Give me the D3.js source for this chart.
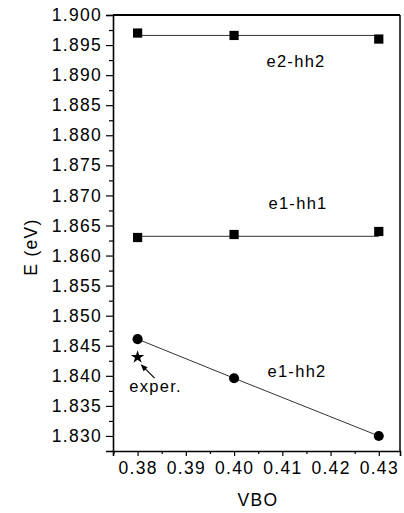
<!DOCTYPE html>
<html>
<head>
<meta charset="utf-8">
<script src="https://cdn.jsdelivr.net/npm/d3@7"></script>
<style>
body{margin:0;background:#fff;}
svg{display:block;font-family:"Liberation Sans",Arial,sans-serif;}
text{letter-spacing:1.3px;}
</style>
</head>
<body>
<svg id="chart"></svg>
<script>
const width=404;
const height=513;

// data
const vbo=[0.38,0.40,0.43];
const e2hh2=[1.8970,1.8966,1.8960];
const e1hh1=[1.8630,1.8635,1.8640];
const e1hh2=[1.8461,1.8396,1.8300];
const e2hh2Fit=[1.8966,1.8966];   // flat fit line ends (0.38 / 0.43)
const e1hh1Fit=[1.8632,1.8632];
const exper={x:0.38,y:1.8431};
const xTicks=[0.38,0.39,0.40,0.41,0.42,0.43];
const yTicks=d3.range(1.830,1.9001,0.005);

const svg=d3.select('#chart').attr('width',width).attr('height',height);

const x=d3.scaleLinear().domain([0.3749,0.4344]).range([113,400]);
const y=d3.scaleLinear().domain([1.8275,1.900]).range([451,15]);

// frame
svg.append('line').attr('x1',x.range()[0]).attr('x2',x.range()[1]).attr('y1',15).attr('y2',15)
  .attr('stroke','#000').attr('stroke-width',2);
svg.append('line').attr('x1',400).attr('x2',400).attr('y1',15).attr('y2',451)
  .attr('stroke','#000').attr('stroke-width',1.5);

// y axis
svg.append('g').attr('transform','translate(113,0)')
  .call(d3.axisLeft(y).tickValues(yTicks).tickFormat(d3.format('.3f')).tickSize(7).tickPadding(4));
svg.append('g').attr('transform','translate(113,0)')
  .call(d3.axisLeft(y).tickValues(d3.range(1.8325,1.900,0.005)).tickFormat('').tickSize(4))
  .select('.domain').remove();

// x axis
svg.append('g').attr('transform','translate(0,451)')
  .call(d3.axisBottom(x).tickValues(xTicks).tickFormat(d3.format('.2f')).tickSize(5).tickPadding(6));
svg.append('g').attr('transform','translate(0,451)')
  .call(d3.axisBottom(x).tickValues([0.375,0.385,0.395,0.405,0.415,0.425]).tickFormat('').tickSize(3))
  .select('.domain').remove();

svg.selectAll('.domain').attr('stroke-width',1.6);
svg.selectAll('.tick text').attr('font-size',17.5).attr('font-family','"Liberation Sans",Arial,sans-serif').attr('fill','#000');
svg.selectAll('.tick line').attr('stroke-width',1.2);

// axis titles
svg.append('text').attr('transform','translate(37,247) rotate(-90)')
  .attr('text-anchor','middle').attr('font-size',17.5).text('E (eV)');
svg.append('text').attr('x',258).attr('y',506)
  .attr('text-anchor','middle').attr('font-size',17.5).text('VBO');

// lines
const lineCol='#333';
svg.append('line').attr('x1',x(0.38)).attr('x2',x(0.43)).attr('y1',y(e2hh2Fit[0])).attr('y2',y(e2hh2Fit[1]))
  .attr('stroke',lineCol).attr('stroke-width',1);
svg.append('line').attr('x1',x(0.38)).attr('x2',x(0.43)).attr('y1',y(e1hh1Fit[0])).attr('y2',y(e1hh1Fit[1]))
  .attr('stroke',lineCol).attr('stroke-width',1);
svg.append('path').datum(vbo.map((v,i)=>[v,e1hh2[i]]))
  .attr('d',d3.line().x(d=>x(d[0])).y(d=>y(d[1])))
  .attr('fill','none').attr('stroke',lineCol).attr('stroke-width',1);

// markers
const sq=d3.symbol().type(d3.symbolSquare).size(85);
const ci=d3.symbol().type(d3.symbolCircle).size(80);
[e2hh2,e1hh1].forEach(s=>{
  svg.append('g').selectAll('path').data(vbo.map((v,i)=>[v,s[i]])).join('path')
    .attr('d',sq).attr('transform',d=>`translate(${x(d[0])},${y(d[1])})`).attr('fill','#000');
});
svg.append('g').selectAll('path').data(vbo.map((v,i)=>[v,e1hh2[i]])).join('path')
  .attr('d',ci).attr('transform',d=>`translate(${x(d[0])},${y(d[1])})`).attr('fill','#000');

// experiment star + arrow
svg.append('path').attr('d',d3.symbol().type(d3.symbolStar).size(55))
  .attr('transform',`translate(${x(exper.x)},${y(exper.y)})`).attr('fill','#000');
const sx=x(exper.x), sy=y(exper.y);
svg.append('line').attr('x1',sx+17).attr('y1',sy+21).attr('x2',sx+5).attr('y2',sy+9)
  .attr('stroke','#000').attr('stroke-width',1.2);
svg.append('path').attr('d',`M${sx+3},${sy+7}L${sx+10},${sy+10}L${sx+6},${sy+14}Z`).attr('fill','#000');
svg.append('text').attr('x',sx+18).attr('y',sy+35).attr('text-anchor','middle').attr('font-size',16.5).text('exper.');

// curve labels
svg.append('text').attr('x',296).attr('y',67).attr('text-anchor','middle').attr('font-size',16.5).text('e2-hh2');
svg.append('text').attr('x',298).attr('y',209).attr('text-anchor','middle').attr('font-size',16.5).text('e1-hh1');
svg.append('text').attr('x',297).attr('y',377).attr('text-anchor','middle').attr('font-size',16.5).text('e1-hh2');
</script>
</body>
</html>
